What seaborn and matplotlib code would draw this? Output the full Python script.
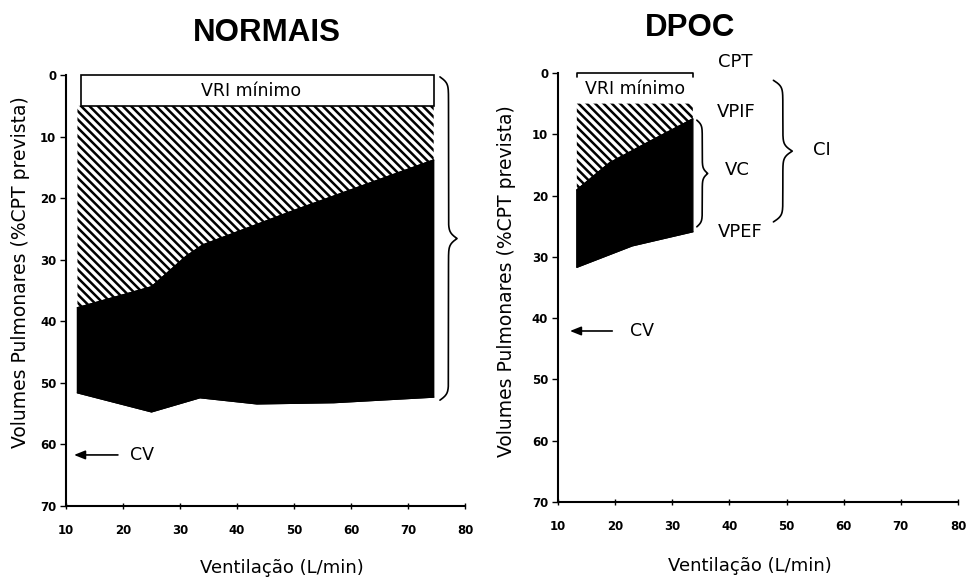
import numpy as np
import matplotlib
matplotlib.use("Agg")
import matplotlib.pyplot as plt
import seaborn as sns

# dados (volumes em %CPT prevista, ventilação em L/min)
vri_min = 5.0

normais_x_vpif = [12, 25, 31, 34, 50, 74.5]
normais_vpif = [37.8, 34.4, 29.5, 27.6, 22.0, 13.8]
normais_x_vpef = [12, 25, 33.5, 43.5, 57, 74.5]
normais_vpef = [51.6, 54.7, 52.4, 53.4, 53.2, 52.3]
normais_cv = 61.7

dpoc_x_vpif = [13.3, 19, 25, 33.6]
dpoc_vpif = [19.1, 14.7, 11.7, 7.5]
dpoc_x_vpef = [13.3, 23, 33.6]
dpoc_vpef = [31.7, 28.2, 25.9]
dpoc_cv = 42.1

x_ticks = [10, 20, 30, 40, 50, 60, 70, 80]
y_ticks = [0, 10, 20, 30, 40, 50, 60, 70]

sns.set_style("ticks")
plt.rcParams["font.family"] = ["DejaVu Sans"]
plt.rcParams["hatch.linewidth"] = 1.8
plt.rcParams["hatch.color"] = "black"
for k in ["text.color", "axes.labelcolor", "xtick.color", "ytick.color", "axes.edgecolor"]:
    plt.rcParams[k] = "black"


def chave(ax, x0, y0, y1, largura, curva=1.5):
    # chave "}" vertical desenhada como curva
    meio = (y1 - y0) / 2.0
    t = np.linspace(0, meio, 200)
    beta = 3.0 / curva
    h = 1 / (1 + np.exp(-beta * (t - t[0]))) + 1 / (1 + np.exp(-beta * (t - t[-1])))
    h = np.concatenate([h, h[-2::-1]]) - 0.5
    yy = np.linspace(y0, y1, len(h))
    ax.plot(x0 + largura * h, yy, color="black", lw=1.2, clip_on=False)


def painel(ax, xs_vpif, vpif, xs_vpef, vpef, cv, seta, cv_txt):
    x0, x1 = xs_vpif[0], xs_vpif[-1]
    # faixa hachurada entre o VRI mínimo e o VPIF
    ax.fill(np.concatenate([[x0, x1], xs_vpif[::-1]]),
            np.concatenate([[vri_min, vri_min], vpif[::-1]]),
            facecolor="white", edgecolor="black", hatch="\\\\\\\\", lw=0)
    # volume corrente (preto)
    ax.fill(np.concatenate([xs_vpif, xs_vpef[::-1]]),
            np.concatenate([vpif, vpef[::-1]]),
            facecolor="black", edgecolor="black", lw=1)
    sns.lineplot(x=xs_vpif, y=vpif, ax=ax, color="black", lw=1)
    sns.lineplot(x=xs_vpef, y=vpef, ax=ax, color="black", lw=1)

    ax.set_xlim(10, 80)
    ax.set_ylim(70, 0)
    ax.set_xticks(x_ticks)
    ax.set_yticks(y_ticks)
    for lab in ax.get_xticklabels() + ax.get_yticklabels():
        lab.set_fontweight("bold")
    ax.tick_params(axis="y", direction="out", length=4, width=1, labelsize=8.5, pad=3)
    ax.tick_params(axis="x", direction="inout", length=4, width=1, labelsize=8.5, pad=11)
    sns.despine(ax=ax)
    for s in ["left", "bottom"]:
        ax.spines[s].set_linewidth(1.5)
    ax.set_xlabel("Ventilação (L/min)", fontsize=13)
    ax.set_ylabel("Volumes Pulmonares (%CPT prevista)", fontsize=13.5)

    ax.annotate("", xy=(seta[0], cv), xytext=(seta[1], cv),
                arrowprops=dict(arrowstyle="-|>,head_length=0.55,head_width=0.22",
                                color="black", lw=1.2,
                                mutation_scale=12, shrinkA=0, shrinkB=0))
    ax.text(cv_txt, cv, "CV", fontsize=12.5, va="center", ha="left")


fig = plt.figure(figsize=(9.67, 5.79), dpi=100)
ax1 = fig.add_axes([0.0683, 0.126, 0.4126, 0.7444])
ax2 = fig.add_axes([0.577, 0.133, 0.4137, 0.741])

# NORMAIS
painel(ax1, normais_x_vpif, normais_vpif, normais_x_vpef, normais_vpef,
       normais_cv, (11.4, 19.1), 21.2)
ax1.fill([12.6, 74.6, 74.6, 12.6], [0, 0, vri_min, vri_min],
         facecolor="white", edgecolor="black", lw=1.2, clip_on=False)
ax1.text(42.5, 2.6, "VRI mínimo", fontsize=12.5, ha="center", va="center")
chave(ax1, 75.6, 0.3, 52.8, 3.0)
ax1.xaxis.set_label_coords(0.54, -0.123)
ax1.yaxis.set_label_coords(-0.09, 0.543)

# DPOC
painel(ax2, dpoc_x_vpif, dpoc_vpif, dpoc_x_vpef, dpoc_vpef,
       dpoc_cv, (12.1, 19.5), 22.6)
ax2.plot([13.3, 13.3, 33.6, 33.6], [0.7, 0, 0, 0.7], color="black", lw=1.2, clip_on=False)
ax2.text(23.5, 2.6, "VRI mínimo", fontsize=12.5, ha="center", va="center")
ax2.text(38.0, -1.8, "CPT", fontsize=13, va="center")
ax2.text(37.8, 6.4, "VPIF", fontsize=13, va="center")
ax2.text(39.2, 15.8, "VC", fontsize=13, va="center")
ax2.text(37.9, 25.9, "VPEF", fontsize=13, va="center")
ax2.text(54.7, 12.6, "CI", fontsize=13, va="center")
chave(ax2, 34.3, 7.7, 25.1, 1.9, curva=1.2)
chave(ax2, 47.7, 1.2, 24.3, 3.3, curva=1.5)
ax2.xaxis.set_label_coords(0.48, -0.128)
ax2.yaxis.set_label_coords(-0.105, 0.515)

fig.text(0.276, 0.943, "NORMAIS", fontsize=22.5, fontweight="bold",
         family="Liberation Sans", ha="center", va="center")
fig.text(0.714, 0.952, "DPOC", fontsize=22.5, fontweight="bold",
         family="Liberation Sans", ha="center", va="center")

fig.savefig("out.png", dpi=100)
